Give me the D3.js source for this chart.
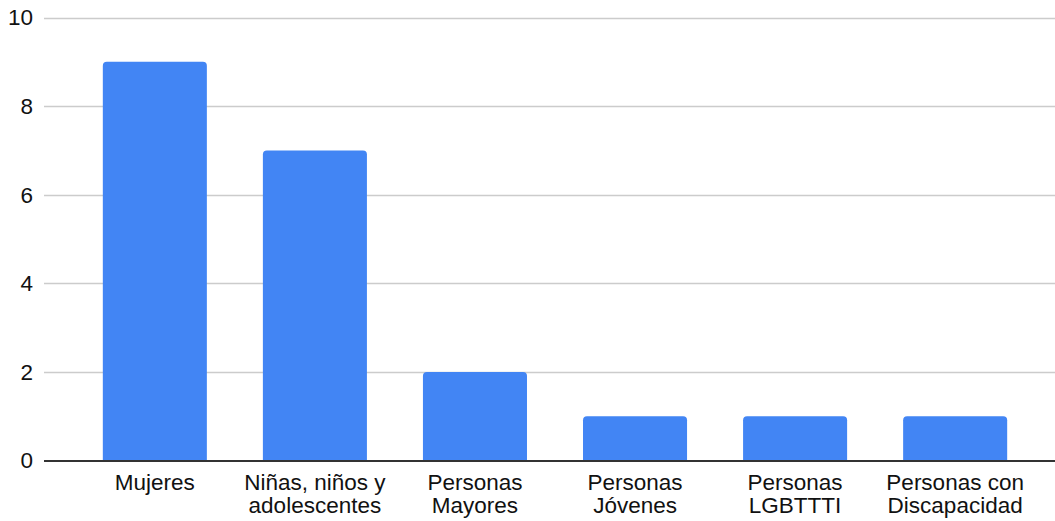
<!DOCTYPE html>
<html><head><meta charset="utf-8">
<script src="https://cdn.jsdelivr.net/npm/d3@7"></script>
<style>
html,body{margin:0;padding:0;background:#fff;}
svg{display:block;font-family:"Liberation Sans",Arial,sans-serif;}
</style></head>
<body>
<svg id="c" width="1055" height="521"></svg>
<script>
const categories = [["Mujeres"],["Niñas, niños y","adolescentes"],["Personas","Mayores"],["Personas","Jóvenes"],["Personas","LGBTTTI"],["Personas con","Discapacidad"]];
const values = [9,7,2,1,1,1];
const yTicks = [0,2,4,6,8,10];

const svg = d3.select("#c");
const W = 1055, H = 521;
const gridLeft = 44, gridRight = 1055;
const y = d3.scaleLinear().domain([0,10]).range([460.5,17.5]);
const keys = categories.map(c=>c.join(" "));
const x = d3.scaleBand().domain(keys).range([50,1060]).paddingInner(0.35).paddingOuter(0.33);

// gridlines
svg.append("g").selectAll("line").data(yTicks.filter(t=>t>0)).join("line")
  .attr("x1",gridLeft).attr("x2",gridRight)
  .attr("y1",d=>Math.round(y(d))+0.5).attr("y2",d=>Math.round(y(d))+0.5)
  .attr("stroke","#cccccc").attr("stroke-width",1.3);

// y labels
svg.append("g").selectAll("text").data(yTicks).join("text")
  .attr("x",33).attr("y",d=>y(d)).attr("dy","0.35em")
  .attr("text-anchor","end").attr("font-size","22.5px").attr("fill","#111")
  .text(d=>d);

// bars with rounded top corners
const r = 4;
function barPath(x0,w,yt,yb){
  return `M${x0},${yb}V${yt+r}Q${x0},${yt} ${x0+r},${yt}H${x0+w-r}Q${x0+w},${yt} ${x0+w},${yt+r}V${yb}Z`;
}
svg.append("g").selectAll("path").data(values).join("path")
  .attr("d",(d,i)=>barPath(x(keys[i]), x.bandwidth(), y(d), y(0)))
  .attr("fill","#4285f4");

// baseline
svg.append("line").attr("x1",gridLeft).attr("x2",gridRight)
  .attr("y1",461).attr("y2",461).attr("stroke","#333").attr("stroke-width",2);

// x labels
const xl = svg.append("g").selectAll("text").data(categories).join("text")
  .attr("x",(d,i)=>x(keys[i])+x.bandwidth()/2).attr("y",490)
  .attr("text-anchor","middle").attr("font-size","22.5px").attr("fill","#111");
xl.selectAll("tspan").data(d=>d).join("tspan")
  .attr("x",function(){return this.parentNode.getAttribute("x");})
  .attr("dy",(d,i)=>i===0?0:22.7).text(d=>d);
</script>
</body></html>
